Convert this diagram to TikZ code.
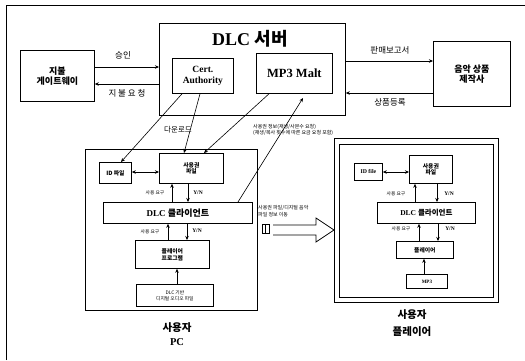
\documentclass[tikz,border=0pt]{standalone}
\usepackage{fontspec}
\setmainfont{Liberation Serif}
\newfontfamily\kr{Noto Sans CJK KR}
\usetikzlibrary{arrows.meta}
\newcommand\fs[1]{\fontsize{#1}{#1}\selectfont}
\tikzset{
  box/.style={draw, line width=0.8pt, inner sep=0pt, anchor=north west, align=center},
  arr/.style={-{Stealth[length=4pt,width=3.5pt]}, line width=0.6pt},
  darr/.style={{Stealth[length=4pt,width=3.5pt]}-{Stealth[length=4pt,width=3.5pt]}, line width=0.6pt},
  lbl/.style={inner sep=0pt, align=center},
  tiny/.style={lbl, font=\kr\fs{4.8}},
  yn/.style={lbl, font=\bfseries\fs{5.5}}
}
\begin{document}
\begin{tikzpicture}[x=1pt,y=-1pt]
\useasboundingbox (0,0) rectangle (525,360);
% outer frame
\draw[line width=0.8pt] (6,360) -- (6,5) -- (525,5);
% top row
\node[box, minimum width=74pt, minimum height=51pt, font=\kr\bfseries\fs{9}] (gw) at (20,50) {지불\\[1pt]게이트웨이};
\node[box, minimum width=186pt, minimum height=92pt] (srv) at (159,23) {};
\node[lbl, font=\bfseries\fs{18}] (srvt) at (250,39) {DLC {\kr 서버}};
\node[box, minimum width=61pt, minimum height=35pt, font=\bfseries\fs{9.5}] (ca) at (172,58) {Cert.\\[1pt]Authority};
\node[box, minimum width=76pt, minimum height=40pt, font=\bfseries\fs{12.5}] (mp3) at (256,53) {MP3 Malt};
\node[box, minimum width=77pt, minimum height=65pt, font=\kr\bfseries\fs{9}] (prod) at (433,41) {음악 상품\\[1pt]제작사};
% top arrows
\draw[arr] (gw.east |- 0,67) -- (srv.west |- 0,67);
\draw[arr] (srv.west |- 0,84) -- (gw.east |- 0,84);
\node[lbl, font=\kr\fs{8.5}] (l1) at (123,55) {승인};
\node[lbl, font=\kr\fs{8.5}] (l2) at (127,93) {지 불 요 청};
\draw[arr] (srv.east |- 0,61) -- (prod.west |- 0,61);
\draw[arr] (prod.west |- 0,93) -- (srv.east |- 0,93);
\node[lbl, font=\kr\fs{8.5}] (l3) at (390,50) {판매보고서};
\node[lbl, font=\kr\fs{8.5}] (l4) at (390,102) {상품등록};
% user PC
\node[box, minimum width=172pt, minimum height=161pt] (pc) at (85,149) {};
\node[box, minimum width=32pt, minimum height=21pt, font=\kr\bfseries\fs{5.8}] (idf) at (99,162) {ID 파일};
\node[box, minimum width=64pt, minimum height=30pt, font=\kr\bfseries\fs{5.8}] (lic) at (159,153) {사용권\\[1pt]파일};
\node[box, minimum width=149pt, minimum height=21pt, font=\bfseries\fs{9}] (cli) at (103,202) {DLC {\kr 클라이언트}};
\node[box, minimum width=74pt, minimum height=28pt, font=\kr\bfseries\fs{5.8}] (ply) at (135,240) {플레이어\\[1pt]프로그램};
\node[box, minimum width=77pt, minimum height=22pt, font=\kr\fs{4.8}] (src) at (136,284) {DLC 기반\\[1pt]디지털 오디오 파일};
\draw[darr] (idf.east |- 0,172) -- (lic.west |- 0,172);
\draw[arr] (cli.north -| 172,0) -- (lic.south -| 172,0);
\draw[arr] (lic.south -| 188,0) -- (cli.north -| 188,0);
\node[tiny] (u1) at (155,193) {사용 요구};
\node[yn] (y1) at (198,193) {Y/N};
\draw[arr] (ply.north -| 168,0) -- (cli.south -| 168,0);
\draw[arr] (cli.south -| 187,0) -- (ply.north -| 187,0);
\node[tiny] (u2) at (150,232) {사용 요구};
\node[yn] (y2) at (197,231) {Y/N};
\draw[arr] (src.north -| 177,0) -- (ply.south -| 177,0);
% download arrows
\draw[arr] (ca.south -| 182,0) -- (idf.north -| 121,0);
\draw[arr] (ca.south -| 200,0) -- (lic.north -| 184,0);
\draw[arr] (mp3.south -| 269,0) -- (lic.north -| 204,0);
\draw[arr] (cli.north -| 238,0) -- (303,98);
\node[lbl, font=\kr\fs{7.5}] (dl) at (178,130) {다운로드};
\node[lbl, anchor=west, align=left, font=\kr\fs{5}] (note1) at (253,130) {사용권 정보(재생/사본수 요청)\\[0.5pt](재생/복사 횟수에 따른 요금 요청 포함)};
% transfer
\node[lbl, anchor=west, align=left, font=\kr\fs{5}] (note2) at (258,211) {사용권 파일/디지털 음악\\[1pt]파일 정보 이동};
\draw[line width=0.7pt] (262,224) rectangle (265.5,233);
\draw[line width=0.7pt] (265.5,224) rectangle (269,233);
\draw[line width=0.8pt] (273,225) -- (316,225) -- (316,218) -- (334,230) -- (316,242) -- (316,235) -- (273,235);
% user player
\node[box, minimum width=164pt, minimum height=164pt] (plo) at (334,138) {};
\node[box, minimum width=154pt, minimum height=153pt] (pli) at (339,144) {};
\node[box, minimum width=28pt, minimum height=17pt, font=\bfseries\fs{5.8}] (idf2) at (354,163) {ID file};
\node[box, minimum width=43pt, minimum height=28pt, font=\kr\bfseries\fs{5.8}] (lic2) at (409,155) {사용권\\[1pt]파일};
\node[box, minimum width=98pt, minimum height=21pt, font=\bfseries\fs{7.5}] (cli2) at (377,202) {DLC {\kr 클라이언트}};
\node[box, minimum width=57pt, minimum height=17pt, font=\kr\bfseries\fs{5.8}] (ply2) at (396,241) {플레이어};
\node[box, minimum width=41pt, minimum height=14pt, font=\bfseries\fs{5}] (mp32) at (406,274) {MP3};
\draw[darr] (idf2.east |- 0,172) -- (lic2.west |- 0,172);
\draw[arr] (cli2.north -| 415,0) -- (lic2.south -| 415,0);
\draw[arr] (lic2.south -| 437,0) -- (cli2.north -| 437,0);
\node[tiny] (u3) at (396,194) {사용 요구};
\node[yn] (y3) at (449,194) {Y/N};
\draw[arr] (ply2.north -| 419,0) -- (cli2.south -| 419,0);
\draw[arr] (cli2.south -| 438,0) -- (ply2.north -| 438,0);
\node[tiny] (u4) at (401,229) {사용 요구};
\node[yn] (y4) at (450,229) {Y/N};
\draw[arr] (mp32.north -| 424,0) -- (ply2.south -| 424,0);
% captions
\node[lbl, font=\kr\bfseries\fs{10.5}] (c1a) at (177,328) {사용자};
\node[lbl, font=\bfseries\fs{10.5}] (c1b) at (177,342) {PC};
\node[lbl, font=\kr\bfseries\fs{10.5}] (c2a) at (412,315) {사용자};
\node[lbl, font=\kr\bfseries\fs{10.5}] (c2b) at (412,332) {플레이어};
\end{tikzpicture}
\end{document}
